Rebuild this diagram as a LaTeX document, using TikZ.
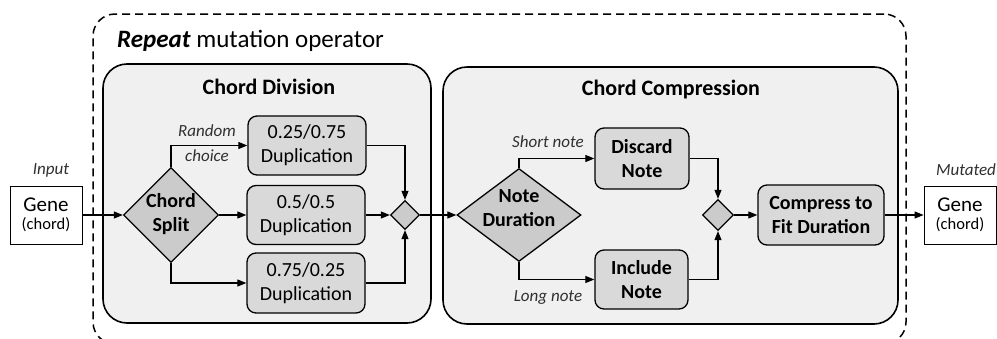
\documentclass[tikz,border=0pt]{standalone}
\usepackage{fontspec}
\setmainfont{Carlito}
\usetikzlibrary{shapes.geometric,arrows.meta}
\definecolor{panelfill}{HTML}{F0F0F0}
\definecolor{procfill}{HTML}{D9D9D9}
\definecolor{decfill}{HTML}{CBCBCB}
\definecolor{labelgray}{HTML}{303030}
\tikzset{
  outerbox/.style={draw, dashed, dash pattern=on 8pt off 5pt, line width=1.5pt, rounded corners=22pt},
  panel/.style={draw, line width=1.6pt, fill=panelfill, rounded corners=24pt},
  paneltitle/.style={anchor=base, font=\fontsize{22pt}{26pt}\selectfont\bfseries},
  proc/.style={draw, line width=1.3pt, fill=procfill, rounded corners=9pt, align=center,
    inner sep=0pt, font=\fontsize{20pt}{24pt}\selectfont},
  procbold/.style={proc, font=\fontsize{20pt}{24pt}\selectfont\bfseries},
  dec/.style={diamond, draw, line width=1.3pt, fill=decfill, inner sep=0pt},
  dectext/.style={align=center, font=\fontsize{20pt}{24pt}\selectfont\bfseries},
  lbl/.style={font=\fontsize{17pt}{20pt}\selectfont\itshape, text=labelgray, inner sep=1pt},
  iobox/.style={draw, line width=0.8pt, fill=white, align=center, inner sep=0pt,
    minimum width=72pt, minimum height=58pt, font=\fontsize{16.5pt}{18pt}\selectfont},
  flow/.style={line width=1.1pt, -{Triangle[length=9pt,width=7pt]}}
}
\begin{document}
\begin{tikzpicture}[x=1pt, y=-1pt]
\clip (0,0) rectangle (997,338);

% outer dashed frame of the operator
\node[outerbox, minimum width=813pt, minimum height=330pt] (outer) at (499.5,179) {};
\node[anchor=base west, inner sep=0pt, font=\fontsize{25pt}{28pt}\selectfont] (optitle) at (117,47)
  {\textbf{\textit{Repeat}} mutation operator};

% the two stages
\node[panel, minimum width=328pt, minimum height=259pt] (division) at (267,193.5) {};
\node[paneltitle] (divtitle) at (269,94) {Chord Division};
\node[panel, minimum width=455pt, minimum height=257pt] (compression) at (670.5,195.5) {};
\node[paneltitle] (comptitle) at (671,95) {Chord Compression};

% input and output genes
\node[lbl] (inputlbl) at (51,170) {Input};
\node[iobox] (genein) at (46,215)
  {{\fontsize{21pt}{24pt}\selectfont Gene}\\{(chord)}};
\node[lbl] (mutatedlbl) at (966,170) {Mutated};
\node[iobox] (geneout) at (960,215)
  {{\fontsize{21pt}{24pt}\selectfont Gene}\\{(chord)}};

% chord division
\node[dec, minimum width=95pt, minimum height=95pt] (split) at (171,215) {};
\node[dectext] (splittext) at (171,214) {Chord\\Split};
\node[proc, minimum width=118pt, minimum height=59pt] (box1) at (307,145.5) {0.25/0.75\\Duplication};
\node[proc, minimum width=118pt, minimum height=59pt] (box2) at (306,215) {0.5/0.5\\Duplication};
\node[proc, minimum width=118pt, minimum height=60pt] (box3) at (306,283) {0.75/0.25\\Duplication};
\node[dec, minimum width=29pt, minimum height=29pt] (merge1) at (405,215) {};
\node[lbl] (randomlbl) at (207,131) {Random};
\node[lbl] (choicelbl) at (207,156) {choice};

% chord compression
\node[dec, minimum width=124pt, minimum height=93pt] (nd) at (519,215) {};
\node[dectext] (ndtext) at (519,208) {Note\\Duration};
\node[procbold, minimum width=94pt, minimum height=61pt] (discard) at (642,158.5) {Discard\\Note};
\node[procbold, minimum width=93pt, minimum height=59pt] (include) at (641.5,279.5) {Include\\Note};
\node[dec, minimum width=31pt, minimum height=31pt] (merge2) at (718,215) {};
\node[procbold, minimum width=126pt, minimum height=60pt] (compress) at (821,215) {Compress to\\Fit Duration};
\node[lbl] (shortlbl) at (548,142) {Short note};
\node[lbl] (longlbl) at (548,297) {Long note};

% connectors
\draw[flow] (genein) -- (split);
\draw[flow] (split.north) |- (box1.west);
\draw[flow] (split) -- (box2);
\draw[flow] (split.south) |- (box3.west);
\draw[flow] (box1.east) -| (merge1.north);
\draw[flow] (box2) -- (merge1);
\draw[flow] (box3.east) -| (merge1.south);
\draw[flow] (merge1) -- (nd);
\draw[flow] (nd.north) |- (discard.west);
\draw[flow] (nd.south) |- (include.west);
\draw[flow] (discard.east) -| (merge2.north);
\draw[flow] (include.east) -| (merge2.south);
\draw[flow] (merge2) -- (compress);
\draw[flow] (compress) -- (geneout);
\end{tikzpicture}
\end{document}
